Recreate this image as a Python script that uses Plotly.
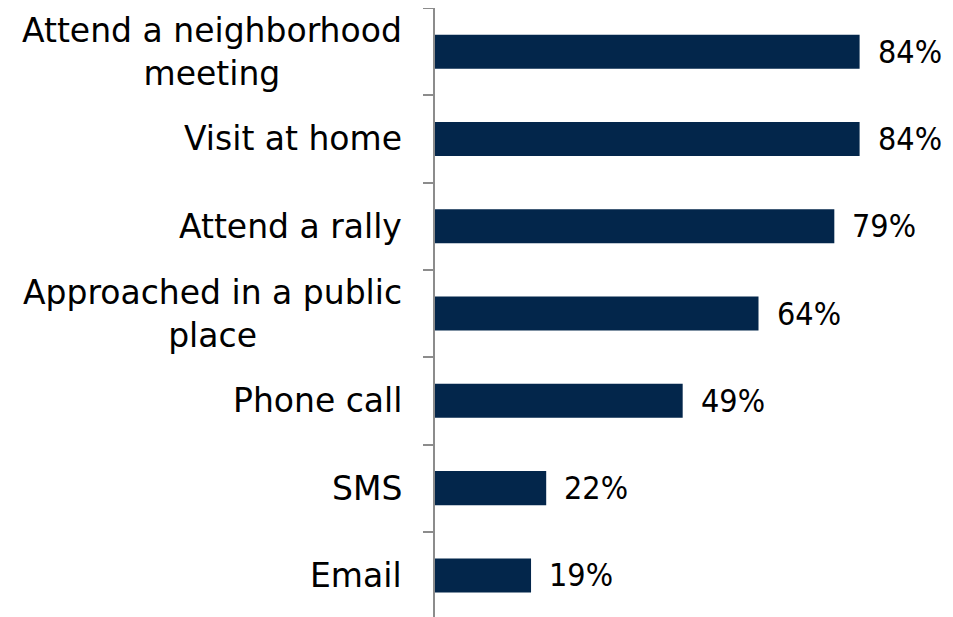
import plotly.graph_objects as go

categories = ["Email", "SMS", "Phone call", "Approached in a public<br>place",
              "Attend a rally", "Visit at home", "Attend a neighborhood<br>meeting"]
values = [19, 22, 49, 64, 79, 84, 84]
value_labels = [f"{v}%" for v in values]

FONT = "DejaVu Sans"
VFONT = "DejaVu Sans Condensed, DejaVu Sans"
BAR = "#03264b"

fig = go.Figure(go.Bar(
    x=values, y=categories, orientation="h",
    marker=dict(color=BAR, line=dict(width=0)),
    hoverinfo="skip",
))

annotations = []
for c, v, t in zip(categories, values, value_labels):
    annotations.append(dict(x=v, y=c, xref="x", yref="y", text=t, showarrow=False,
                            xanchor="left", yanchor="middle", xshift=16,
                            font=dict(family=VFONT, size=32, color="black")))
    annotations.append(dict(x=0, y=c, xref="paper", yref="y", text=c, showarrow=False,
                            xanchor="right", yanchor="middle", xshift=-31, align="center",
                            font=dict(family=FONT, size=33, color="black")))

fig.update_layout(
    width=945, height=609,
    margin=dict(l=427, r=10, t=0, b=0),
    paper_bgcolor="white", plot_bgcolor="white",
    bargap=0.61,
    showlegend=False,
    annotations=annotations,
    xaxis=dict(range=[0, 100.5], visible=False, fixedrange=True),
    yaxis=dict(type="category", categoryorder="array", categoryarray=categories,
               range=[-0.476, 6.5], showticklabels=False, automargin=False,
               ticks="outside", tickson="boundaries", ticklen=10, tickwidth=2,
               tickcolor="#8c8c8c", showline=True, linecolor="#8c8c8c", linewidth=2,
               showgrid=False, zeroline=False),
)

fig.write_html("out.html")
